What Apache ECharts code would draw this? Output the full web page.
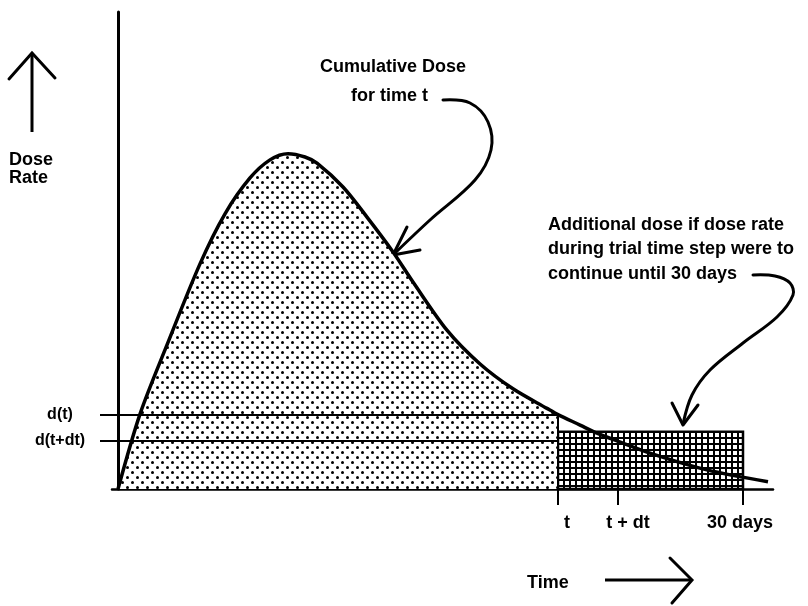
<!DOCTYPE html>
<html>
<head>
<meta charset="utf-8">
<script src="https://cdn.jsdelivr.net/npm/echarts@6/dist/echarts.min.js"></script>
<style>
  html, body { margin: 0; padding: 0; background: #fff; }
  #chart { width: 808px; height: 606px; }
</style>
</head>
<body>
<div id="chart"></div>
<script>
// dose rate curve (time in days)
const timeDays = [0, 1.056, 2.352, 3.936, 5.136, 6.336, 7.296, 8.16, 8.976, 9.552, 10.8, 11.952, 13.2, 14.16, 15.79, 17.38, 18.96, 20.59, 21.12, 22.18, 22.99, 24.0, 25.68, 28.27, 31.2];
const doseRate = [0, 15.7, 30.2, 47.2, 57.7, 65.2, 69.0, 70.3, 69.6, 68.3, 63.3, 57.0, 49.7, 43.4, 33.3, 26.2, 21.0, 16.9, 15.6, 13.4, 11.7, 10.0, 7.3, 4.0, 1.5];

// x axis marks
const markNames = ['t', 't + dt', '30 days'];
const markTimes = [21.12, 24.0, 30];

// y axis levels
const levelNames = ['d(t)', 'd(t+dt)'];
const levelValues = [15.6, 10.1];

// height of the "continue to 30 days" box
const boxRate = 12;

const FONT = "'Liberation Sans', Arial, sans-serif";

function makePattern(kind) {
  const c = document.createElement('canvas');
  const ctx = c.getContext('2d');
  if (kind === 'dots') {
    c.width = 10; c.height = 10;
    ctx.fillStyle = '#fff';
    ctx.fillRect(0, 0, 10, 10);
    ctx.fillStyle = '#000';
    [[2.5, 2.5], [7.5, 7.5]].forEach(([x, y]) => {
      ctx.beginPath();
      ctx.arc(x, y, 1.5, 0, Math.PI * 2);
      ctx.fill();
    });
  } else {
    c.width = 6; c.height = 6;
    ctx.fillStyle = '#000';
    ctx.fillRect(0, 0, 6, 6);
    ctx.fillStyle = '#fff';
    ctx.fillRect(1, 1, 4, 4);
  }
  return { image: c, repeat: 'repeat' };
}

const curve = timeDays.map((t, i) => [t, doseRate[i]]);
const tIdx = timeDays.indexOf(markTimes[0]);
const cumulative = curve.slice(0, tIdx + 1);

const chart = echarts.init(document.getElementById('chart'));
chart.setOption({
  animation: false,
  grid: { left: 112, right: 35, top: 12, bottom: 117 },
  xAxis: {
    type: 'value',
    min: -0.288,
    max: 31.44,
    splitLine: { show: false },
    axisLine: { onZero: true, lineStyle: { color: '#000', width: 2.5 } },
    axisTick: { show: true, customValues: markTimes, length: 16, lineStyle: { color: '#000', width: 2 } },
    axisLabel: {
      customValues: markTimes,
      margin: 25,
      color: '#000',
      fontFamily: FONT,
      fontWeight: 'bold',
      fontSize: 18,
      formatter: (v) => {
        let k = 0;
        markTimes.forEach((m, i) => { if (Math.abs(m - v) < Math.abs(markTimes[k] - v)) k = i; });
        return '{s' + k + '|' + markNames[k] + '}';
      },
      rich: {
        s0: { fontFamily: FONT, fontWeight: 'bold', fontSize: 18, color: '#000', padding: [0, 0, 0, 18] },
        s1: { fontFamily: FONT, fontWeight: 'bold', fontSize: 18, color: '#000', padding: [0, 0, 0, 20] },
        s2: { fontFamily: FONT, fontWeight: 'bold', fontSize: 18, color: '#000', padding: [0, 6, 0, 0] }
      }
    }
  },
  yAxis: {
    type: 'value',
    min: 0,
    max: 100,
    splitLine: { show: false },
    axisLine: { onZero: true, lineStyle: { color: '#000', width: 3 } },
    axisTick: { show: true, customValues: levelValues, length: 18, lineStyle: { color: '#000', width: 2 } },
    axisLabel: {
      customValues: levelValues,
      align: 'center',
      margin: 52,
      color: '#000',
      fontFamily: FONT,
      fontWeight: 'bold',
      fontSize: 16,
      formatter: (v) => levelNames[levelValues.indexOf(v)]
    }
  },
  series: [
    {
      type: 'line',
      data: cumulative,
      smooth: 0.3,
      symbol: 'none',
      lineStyle: { width: 0 },
      areaStyle: { color: makePattern('dots'), opacity: 1 },
      z: 1,
      markLine: {
        silent: true,
        symbol: ['none', 'none'],
        label: { show: false },
        lineStyle: { color: '#000', width: 2, type: 'solid' },
        data: [
          [{ coord: [0, levelValues[0]] }, { coord: [markTimes[0], levelValues[0]] }],
          [{ coord: [0, levelValues[1]] }, { coord: [markTimes[0], levelValues[1]] }],
          [{ coord: [markTimes[0], levelValues[0]] }, { coord: [markTimes[0], 0] }],
          [{ coord: [markTimes[1], boxRate] }, { coord: [markTimes[1], 0] }]
        ]
      }
    },
    {
      type: 'line',
      data: [],
      z: 2,
      markArea: {
        silent: true,
        itemStyle: { color: makePattern('grid'), borderColor: '#000', borderWidth: 2.5 },
        data: [[{ coord: [markTimes[0], 0] }, { coord: [markTimes[2], boxRate] }]]
      }
    },
    {
      type: 'line',
      data: curve,
      smooth: 0.3,
      symbol: 'none',
      lineStyle: { color: '#000', width: 3.5 },
      z: 3
    }
  ],
  graphic: [
    // y axis arrow and caption
    { type: 'polyline', shape: { points: [[32, 132], [32, 53]] }, style: { stroke: '#000', lineWidth: 3, fill: null } },
    { type: 'polyline', shape: { points: [[9, 79], [32, 53], [55, 78]] }, style: { stroke: '#000', lineWidth: 3, fill: null, lineCap: 'round' } },
    { type: 'text', x: 9, y: 160, style: { text: 'Dose', font: 'bold 18px ' + FONT, fill: '#000', verticalAlign: 'middle' } },
    { type: 'text', x: 9, y: 178, style: { text: 'Rate', font: 'bold 18px ' + FONT, fill: '#000', verticalAlign: 'middle' } },
    // time arrow and caption
    { type: 'text', x: 527, y: 583, style: { text: 'Time', font: 'bold 18px ' + FONT, fill: '#000', verticalAlign: 'middle' } },
    { type: 'polyline', shape: { points: [[605, 580], [691, 580]] }, style: { stroke: '#000', lineWidth: 3, fill: null } },
    { type: 'polyline', shape: { points: [[670, 558], [692, 580], [672, 603]] }, style: { stroke: '#000', lineWidth: 3, fill: null, lineCap: 'round' } },
    // cumulative dose note
    { type: 'text', x: 320, y: 67, style: { text: 'Cumulative Dose', font: 'bold 18px ' + FONT, fill: '#000', verticalAlign: 'middle' } },
    { type: 'text', x: 351, y: 96, style: { text: 'for time t', font: 'bold 18px ' + FONT, fill: '#000', verticalAlign: 'middle' } },
    { type: 'polyline', shape: { points: [[443, 100], [470, 103], [488, 122], [491, 150], [475, 180], [430, 220], [394, 254]], smooth: 0.35 }, style: { stroke: '#000', lineWidth: 3, fill: null, lineCap: 'round' } },
    { type: 'polyline', shape: { points: [[407, 227], [393, 255], [420, 250]] }, style: { stroke: '#000', lineWidth: 3, fill: null, lineCap: 'round', lineJoin: 'round' } },
    // additional dose note
    { type: 'text', x: 548, y: 225, style: { text: 'Additional dose if dose rate', font: 'bold 18px ' + FONT, fill: '#000', verticalAlign: 'middle' } },
    { type: 'text', x: 548, y: 249, style: { text: 'during trial time step were to', font: 'bold 18px ' + FONT, fill: '#000', verticalAlign: 'middle' } },
    { type: 'text', x: 548, y: 274, style: { text: 'continue until 30 days', font: 'bold 18px ' + FONT, fill: '#000', verticalAlign: 'middle' } },
    { type: 'polyline', shape: { points: [[753, 275], [775, 276], [790, 283], [793, 295], [777, 317], [743, 343], [710, 370], [692, 395], [683, 424]], smooth: 0.35 }, style: { stroke: '#000', lineWidth: 3, fill: null, lineCap: 'round' } },
    { type: 'polyline', shape: { points: [[672, 403], [683, 425], [698, 405]] }, style: { stroke: '#000', lineWidth: 3, fill: null, lineCap: 'round', lineJoin: 'round' } }
  ]
});
</script>
</body>
</html>
